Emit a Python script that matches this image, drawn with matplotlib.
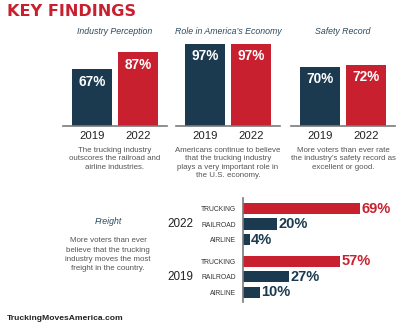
import matplotlib
matplotlib.use("Agg")
import matplotlib.pyplot as plt
import matplotlib.transforms as mtransforms

# --- data ---
years = ["2019", "2022"]
panel_titles = ["Industry Perception", "Role in America\u2019s Economy", "Safety Record"]
perception = [67, 87]
economy = [97, 97]
safety = [70, 72]
panel_notes = [
    "The trucking industry\noutscores the railroad and\nairline industries.",
    "Americans continue to believe\nthat the trucking industry\nplays a very important role in\nthe U.S. economy.",
    "More voters than ever rate\nthe industry\u2019s safety record as\nexcellent or good.",
]
modes = ["TRUCKING", "RAILROAD", "AIRLINE"]
freight_2022 = [69, 20, 4]
freight_2019 = [57, 27, 10]
freight_note = "More voters than ever\nbelieve that the trucking\nindustry moves the most\nfreight in the country."

RED = "#c8202f"
NAVY = "#1b3a4f"
SLATE = "#2c4a5e"
GRAY = "#555555"
AXIS = "#7a7a7a"
SANS = "Liberation Sans"

W, H = 400, 330
fig = plt.figure(figsize=(W / 100, H / 100), dpi=100)


def px_axes(x0, y0, x1, y1):
    # pixel box (top-left origin) -> figure axes
    return fig.add_axes([x0 / W, 1 - y1 / H, (x1 - x0) / W, (y1 - y0) / H])


fig.text(7 / W, 1 - 11.5 / H, "KEY FINDINGS", color=RED, fontsize=11.6,
         fontweight="bold", family="DejaVu Sans", va="center", ha="left")

# --- vertical bar panels ---
panels = [perception, economy, safety]
lefts = [63, 176, 291]
for vals, title, note, x0 in zip(panels, panel_titles, panel_notes, lefts):
    ax = px_axes(x0, 41, x0 + 104, 126)
    ax.bar([0, 1], vals, width=0.87, color=[NAVY, RED])
    ax.set_xlim(-0.63, 1.63)
    ax.set_ylim(0, 100)
    for s in ["top", "right", "left"]:
        ax.spines[s].set_visible(False)
    ax.spines["bottom"].set_color(AXIS)
    ax.spines["bottom"].set_linewidth(1.2)
    ax.set_yticks([])
    ax.set_xticks([0, 1], labels=years)
    ax.tick_params(axis="x", length=0, pad=3.5, labelsize=8.2, labelcolor="#222222")
    for lab in ax.get_xticklabels():
        lab.set_family(SANS)
    for i, v in enumerate(vals):
        ax.annotate(f"{v}%", (i, v), xytext=(0, -4), textcoords="offset points",
                    ha="center", va="top", color="white", fontsize=9.8,
                    fontweight="bold", family=SANS)
    ax.text(0.5, 1.106, title, transform=ax.transAxes, ha="center", va="center",
            fontsize=6.3, style="italic", color=SLATE, family=SANS)
    ax.text(0.5, -0.245, note, transform=ax.transAxes, ha="center", va="top",
            fontsize=5.7, color=GRAY, linespacing=1.3, family=SANS)

# --- freight horizontal bars ---
ax = px_axes(243, 198, 396, 302)
pos_2022 = [0, 1, 2]
pos_2019 = [3.4, 4.4, 5.4]
cols = [RED, NAVY, NAVY]
ax.barh(pos_2022, freight_2022, height=0.74, color=cols)
ax.barh(pos_2019, freight_2019, height=0.74, color=cols)
ax.set_xlim(0, 90)
ax.set_ylim(6.03, -0.68)
for s in ["top", "right", "bottom"]:
    ax.spines[s].set_visible(False)
ax.spines["left"].set_color(AXIS)
ax.spines["left"].set_linewidth(1.2)
ax.set_xticks([])
ax.set_yticks(pos_2022 + pos_2019, labels=modes + modes)
ax.tick_params(axis="y", length=0, pad=5, labelsize=4.9, labelcolor="#333333")
for lab in ax.get_yticklabels():
    lab.set_family(SANS)
for pos, vals in [(pos_2022, freight_2022), (pos_2019, freight_2019)]:
    for p, v, c in zip(pos, vals, cols):
        ax.annotate(f"{v}%", (v, p), xytext=(1, 0), textcoords="offset points",
                    ha="left", va="center", color=c, fontsize=10.5,
                    fontweight="bold", family=SANS)

tr = mtransforms.blended_transform_factory(ax.transAxes, ax.transData)
ax.text(-0.41, pos_2022[1], years[1], transform=tr, ha="center", va="center",
        fontsize=8.4, color="#222222", family=SANS)
ax.text(-0.41, pos_2019[1], years[0], transform=tr, ha="center", va="center",
        fontsize=8.4, color="#222222", family=SANS)

fig.text(108 / W, 1 - 221 / H, "Freight", ha="center", va="center", fontsize=6.3,
         style="italic", color=SLATE, family=SANS)
fig.text(108 / W, 1 - 237.5 / H, freight_note, ha="center", va="top", fontsize=5.7,
         color=GRAY, linespacing=1.45, family=SANS)

fig.text(7 / W, 1 - 319 / H, "TruckingMovesAmerica.com", ha="left", va="center",
         fontsize=6.1, fontweight="bold", color="#222222", family=SANS)

fig.savefig("out.png", dpi=100)
